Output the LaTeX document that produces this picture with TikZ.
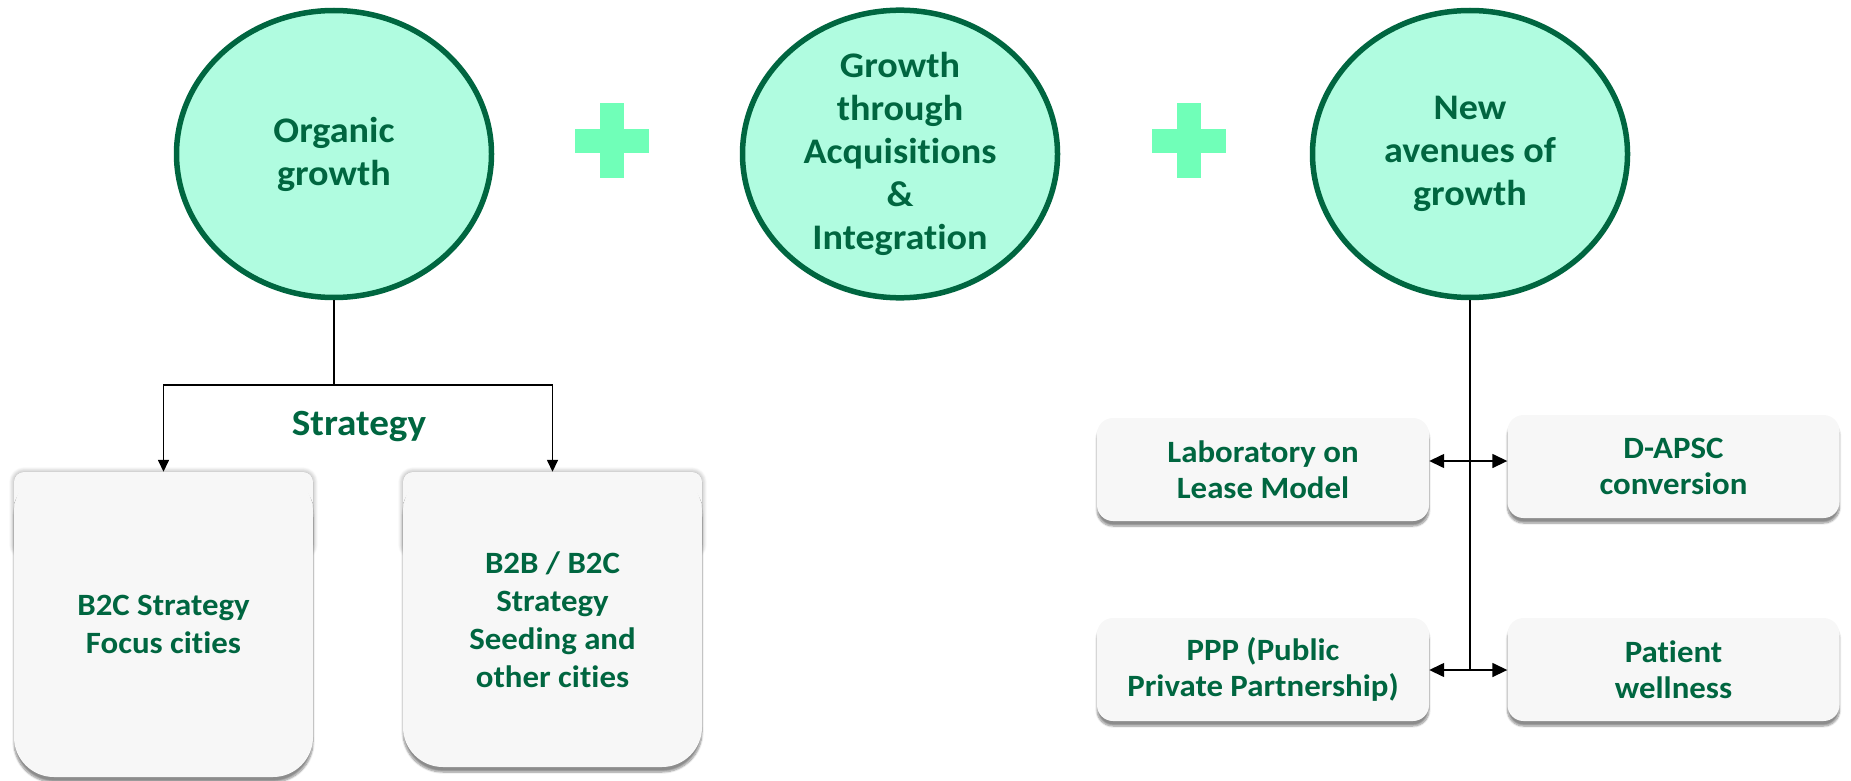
\documentclass[tikz,border=0pt]{standalone}
\usepackage{fontspec}
\setmainfont{Carlito}[FakeStretch=1.06, Ligatures=NoCommon]
\usetikzlibrary{arrows.meta,shadows.blur,shapes.geometric}
\definecolor{dgreen}{RGB}{0,102,64}
\definecolor{mint}{RGB}{176,252,224}
\definecolor{plusgreen}{RGB}{112,255,184}
\definecolor{boxfill}{RGB}{247,247,247}
\tikzset{
  growth/.style={ellipse, draw=dgreen, line width=5.5pt, fill=mint,
    minimum width=315pt, minimum height=287pt, inner sep=0pt,
    text=dgreen, font=\bfseries\fontsize{36}{43}\selectfont, align=center},
  plusbar/.style={fill=plusgreen},
  tallbox/.style={minimum width=299pt, inner sep=0pt, text=dgreen,
    font=\bfseries\fontsize{31}{38}\selectfont, align=center},
  boxshadow/.style={blur shadow={shadow xshift=0pt, shadow yshift=-5pt,
    shadow blur steps=8, shadow opacity=45}},
  sideshadow/.style={blur shadow={shadow xshift=0pt, shadow yshift=0pt,
    shadow blur radius=5pt, shadow blur steps=8, shadow opacity=40}},
  smallbox/.style={fill=boxfill, rounded corners=16pt, minimum width=332pt,
    minimum height=103pt, inner sep=0pt, text=dgreen,
    font=\bfseries\fontsize{31}{36}\selectfont, align=center, boxshadow},
  label/.style={text=dgreen, font=\bfseries\fontsize{37}{43}\selectfont},
  conn/.style={line width=1.5pt, black},
  tipA/.style={-{Triangle[length=12pt,width=11pt]}},
  tipB/.style={{Triangle[length=15pt,width=14pt]}-{Triangle[length=15pt,width=14pt]}}
}
\begin{document}
\begin{tikzpicture}[x=1pt,y=-1pt]
\useasboundingbox (0,0) rectangle (1851,781);

% ellipses
\node[growth] (e1) at (334,154) {Organic\\growth};
\node[growth] (e2) at (900,154) {Growth\\through\\Acquisitions\\\&\\Integration};
\node[growth] (e3) at (1470,154) {New\\avenues of\\growth};

% plus signs
\fill[plusgreen] (575,129) rectangle (649,153);
\fill[plusgreen] (600,103) rectangle (624,178);
\fill[plusgreen] (1152,129) rectangle (1226,153);
\fill[plusgreen] (1177,103) rectangle (1201,178);

% left tall box shapes
\path[fill=boxfill, rounded corners=10pt, sideshadow] (14,472) rectangle (313,555);
\path[fill=boxfill, rounded corners=40pt, boxshadow] (14,472) rectangle (313,777);
\path[fill=boxfill, rounded corners=10pt, sideshadow] (403,472) rectangle (702,555);
\path[fill=boxfill, rounded corners=40pt, boxshadow] (403,472) rectangle (702,767);

% left tall box texts
\node[tallbox, minimum height=305pt] (b1) at (163.5,624.5) {B2C Strategy\\Focus cities};
\node[tallbox, minimum height=295pt] (b2) at (552.5,619.5) {B2B / B2C\\Strategy\\Seeding and\\other cities};

\node[label] (strat) at (359,426) {Strategy};

\coordinate (fork) at (334,385);
\draw[conn] (e1.south) -- (fork);
\draw[conn, tipA] (fork) -| (b1.north);
\draw[conn, tipA] (fork) -| (b2.north);

% right boxes
\node[smallbox] (lab) at (1263,469.5) {Laboratory on\\Lease Model};
\node[smallbox] (dapsc) at (1673.5,466.5) {D-APSC\\conversion};
\node[smallbox] (ppp) at (1263,669.5) {PPP (Public\\Private Partnership)};
\node[smallbox] (pat) at (1673.5,669.5) {Patient\\wellness};

\coordinate (j1) at (1470,461);
\coordinate (j2) at (1470,670);
\draw[conn] (e3.south) -- (j2);
\draw[conn, tipB] (lab.east |- j1) -- (dapsc.west |- j1);
\draw[conn, tipB] (ppp.east |- j2) -- (pat.west |- j2);
\end{tikzpicture}
\end{document}
